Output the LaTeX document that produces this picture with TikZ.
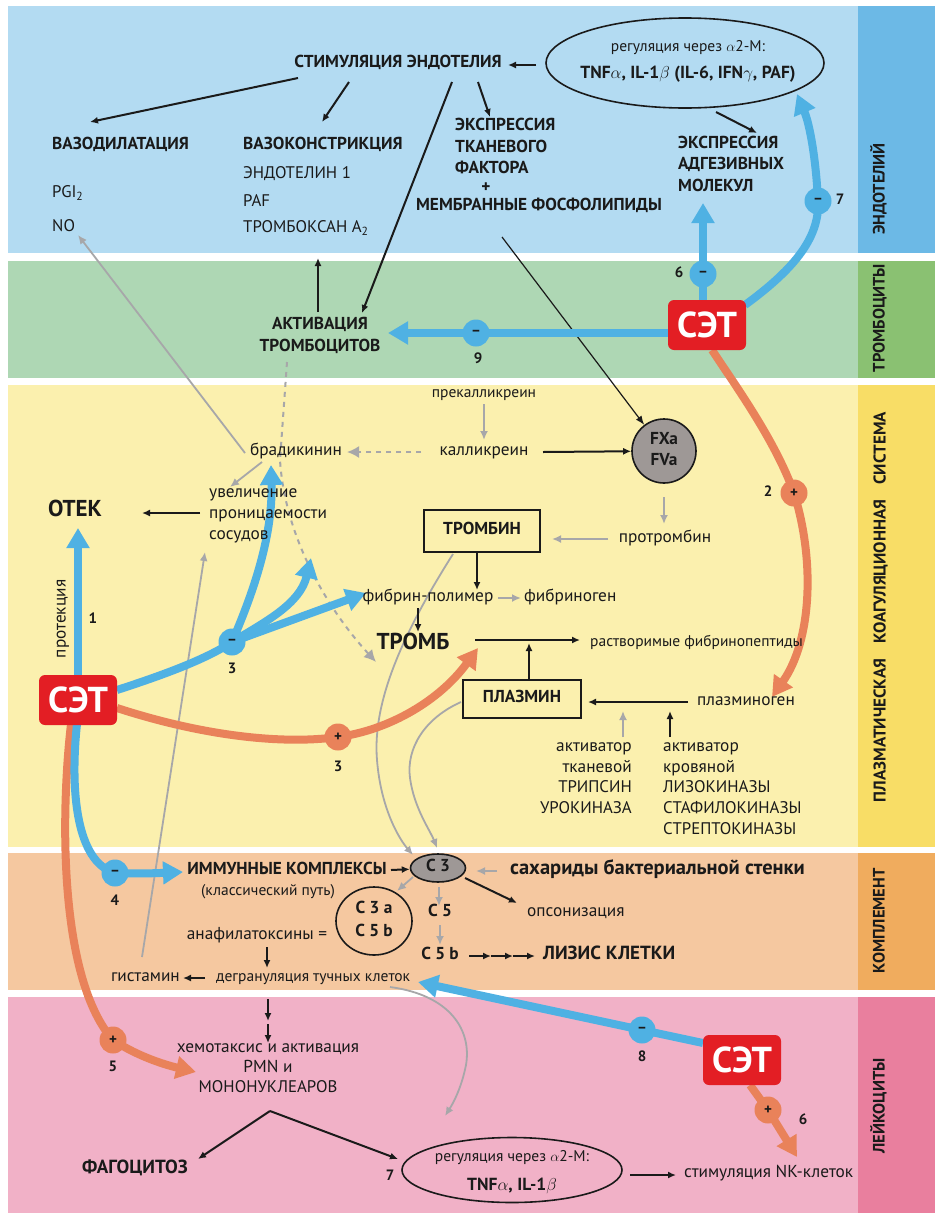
\documentclass[tikz,border=0pt]{standalone}
\usepackage{fontspec}
\setmainfont{PT Sans}
\usetikzlibrary{arrows.meta,shapes.geometric,calc}
\pgfdeclarelayer{back}\pgfdeclarelayer{mid}
\pgfsetlayers{back,mid,main}
\definecolor{bblue}{HTML}{B3DBF2}
\definecolor{sblue}{HTML}{6CB9E6}
\definecolor{bgreen}{HTML}{AED7B4}
\definecolor{sgreen}{HTML}{8AC172}
\definecolor{byellow}{HTML}{FBF0AE}
\definecolor{syellow}{HTML}{F8DD66}
\definecolor{bpeach}{HTML}{F5C8A0}
\definecolor{speach}{HTML}{F0AC5E}
\definecolor{bpink}{HTML}{F1B1C7}
\definecolor{spink}{HTML}{E97F9E}
\definecolor{arrblue}{HTML}{4FB1E3}
\definecolor{arrorange}{HTML}{E9825A}
\definecolor{setred}{HTML}{E31E24}
\definecolor{greyarr}{HTML}{A7A7A9}
\definecolor{cgrey}{HTML}{9E9896}
\definecolor{ink}{HTML}{1A1A1A}
\tikzset{
  tx/.style={inner sep=0pt, text height=0.7em, text depth=0pt, text=ink},
  tn/.style={tx, font=\fontsize{17.3}{20}\selectfont},
  tnc/.style={tx, font=\fontsize{16.8}{20}\selectfont},
  ts/.style={tx, font=\fontsize{15.5}{18}\selectfont},
  tb/.style={tx, font=\bfseries\fontsize{17.3}{20}\selectfont},
  tbs/.style={tx, font=\bfseries\fontsize{17.5}{20}\selectfont},
  tbm/.style={tx, font=\bfseries\fontsize{19}{22}\selectfont},
  tbl/.style={tx, font=\bfseries\fontsize{20.5}{23}\selectfont},
  tL/.style={tx, font=\bfseries\fontsize{23}{26}\selectfont},
  num/.style={tx, font=\bfseries\fontsize{15}{18}\selectfont},
  side/.style={tx, rotate=90, font=\bfseries\fontsize{16.5}{19}\selectfont},
  setbox/.style={fill=setred, rounded corners=6pt, minimum width=78pt, minimum height=50pt, inner sep=0pt, text=white, font=\bfseries\fontsize{36}{36}\selectfont},
  bsign/.style={circle, fill=arrblue, minimum size=27pt, inner sep=0pt, text=ink, font=\bfseries\fontsize{15}{15}\selectfont},
  osign/.style={circle, fill=arrorange, minimum size=27pt, inner sep=0pt, text=ink, font=\bfseries\fontsize{15}{15}\selectfont},
  framebox/.style={draw=ink, line width=2pt, inner sep=0pt},
  bluearr/.style={draw=arrblue, line width=8pt, -{Triangle[length=20pt,width=22pt]}},
  blueline/.style={draw=arrblue, line width=8pt},
  orarr/.style={draw=arrorange, line width=8pt, -{Triangle[length=20pt,width=22pt]}},
  blk/.style={draw=ink, line width=2pt, -{Latex[length=8pt,width=7pt]}},
  blkthin/.style={draw=ink, line width=1.2pt, -{Latex[length=9pt,width=7pt]}},
  gry/.style={draw=greyarr, line width=1.8pt, -{Latex[length=9pt,width=8pt]}},
  grydash/.style={draw=greyarr, line width=2pt, dash pattern=on 5pt off 5pt, -{Latex[length=12pt,width=12pt]}},
}
\begin{document}
\begin{tikzpicture}[x=1pt,y=-1pt]
\useasboundingbox (0,0) rectangle (935,1213);
% ---------------- bands
\begin{pgfonlayer}{back}
\fill[white] (0,0) rectangle (935,1213);
\fill[bblue] (8,6) rectangle (858,253);   \fill[sblue] (858,6) rectangle (935,253);
\fill[bgreen] (8,261) rectangle (858,378); \fill[sgreen] (858,261) rectangle (935,378);
\fill[byellow] (8,385) rectangle (858,847); \fill[syellow] (858,385) rectangle (935,847);
\fill[bpeach] (8,853) rectangle (858,990); \fill[speach] (858,853) rectangle (935,990);
\fill[bpink] (8,997) rectangle (858,1213); \fill[spink] (858,997) rectangle (935,1213);
\end{pgfonlayer}
% ---------------- side labels
\node[side] (sl1) at (881,189) {ЭНДОТЕЛИЙ};
\node[side] (sl2) at (881,318) {ТРОМБОЦИТЫ};
\node[side, font=\bfseries\fontsize{17}{19}\selectfont] (sl3) at (882,607) {ПЛАЗМАТИЧЕСКАЯ\hspace{15pt}КОАГУЛЯЦИОННАЯ\hspace{15pt}СИСТЕМА};
\node[side] (sl4) at (881,921) {КОМПЛЕМЕНТ};
\node[side] (sl5) at (881,1106) {ЛЕЙКОЦИТЫ};
% ---------------- endothelium
\node[tb] (stim) at (398,64) {СТИМУЛЯЦИЯ ЭНДОТЕЛИЯ};
\node[draw=ink, line width=1.6pt, ellipse, minimum width=278pt, minimum height=90pt, inner sep=0pt] (reg1) at (685,63) {};
\node[ts] (reg1a) at (688,48) {регуляция через $\alpha$2-М:};
\node[tbs] (reg1b) at (688,75) {TNF$\alpha$, IL-1$\beta$ (IL-6, IFN$\gamma$, PAF)};
\node[tb, anchor=west] (vdil) at (52,146) {ВАЗОДИЛАТАЦИЯ};
\node[tnc, anchor=west] (pgi) at (52,194) {PGI\textsubscript{2}};
\node[tnc, anchor=west] (no) at (52,228) {NO};
\node[tb, anchor=west] (vcon) at (243,146) {ВАЗОКОНСТРИКЦИЯ};
\node[tnc, anchor=west] (et1) at (243,175) {ЭНДОТЕЛИН 1};
\node[tnc, anchor=west] (paf) at (243,203) {PAF};
\node[tnc, anchor=west] (txa) at (243,229) {ТРОМБОКСАН A\textsubscript{2}};
\node[tb, anchor=west] (tf1) at (455,127) {ЭКСПРЕССИЯ};
\node[tb, anchor=west] (tf2) at (455,149) {ТКАНЕВОГО};
\node[tb, anchor=west] (tf3) at (455,170) {ФАКТОРА};
\node[tb] (tfp) at (486,189) {+};
\node[tb] (tf4) at (539,207) {МЕМБРАННЫЕ ФОСФОЛИПИДЫ};
\node[tb, anchor=west] (ad1) at (678,145) {ЭКСПРЕССИЯ};
\node[tb, anchor=west] (ad2) at (678,166) {АДГЕЗИВНЫХ};
\node[tb, anchor=west] (ad3) at (678,188) {МОЛЕКУЛ};
% ---------------- platelets
\node[tb] (act1) at (320,326) {АКТИВАЦИЯ};
\node[tb] (act2) at (320,348) {ТРОМБОЦИТОВ};
\node[setbox] (set1) at (707,325) {СЭТ};
\node[bsign] (m9) at (476,333) {–};
\node[num] (n9) at (478,360) {9};
\node[bsign] (m6) at (703,274) {–};
\node[num] (n6a) at (679,274) {6};
\node[bsign] (m7) at (818,201) {–};
\node[num] (n7a) at (840,201) {7};
% ---------------- coagulation
\node[ts] (prek) at (484,394) {прекалликреин};
\node[tn] (kal) at (484,452) {калликреин};
\node[tn] (brad) at (296,452) {брадикинин};
\node[circle, draw=ink, line width=1.6pt, fill=cgrey, minimum size=64pt, inner sep=0pt] (fx) at (664,451) {};
\node[tb] (fxa) at (664,441) {FXa};
\node[tb] (fva) at (664,462) {FVa};
\node[tn] (prot) at (665,539) {протромбин};
\node[framebox, minimum width=116pt, minimum height=42pt] (thr) at (482,531) {};
\node[tb] (thrt) at (482,531) {ТРОМБИН};
\node[tn] (fibp) at (428,598) {фибрин-полимер};
\node[tn, anchor=west] (fibg) at (524,598) {фибриноген};
\node[tL] (tromb) at (413,646) {ТРОМБ};
\node[ts, anchor=west] (rfp) at (590,643) {растворимые фибринопептиды};
\node[framebox, minimum width=118pt, minimum height=38pt] (plm) at (522,699) {};
\node[tb] (plmt) at (522,699) {ПЛАЗМИН};
\node[tn, anchor=west] (plg) at (697,702) {плазминоген};
\node[tn, anchor=east] (ta1) at (632,748) {активатор};
\node[tn, anchor=east] (ta2) at (632,769) {тканевой};
\node[tnc, anchor=east] (ta3) at (632,789) {ТРИПСИН};
\node[tnc, anchor=east] (ta4) at (632,810) {УРОКИНАЗА};
\node[tn, anchor=west] (kb1) at (663,748) {активатор};
\node[tn, anchor=west] (kb2) at (663,769) {кровяной};
\node[tnc, anchor=west] (kb3) at (663,789) {ЛИЗОКИНАЗЫ};
\node[tnc, anchor=west] (kb4) at (663,810) {СТАФИЛОКИНАЗЫ};
\node[tnc, anchor=west] (kb5) at (663,831) {СТРЕПТОКИНАЗЫ};
\node[tL] (otek) at (75,513) {ОТЕК};
\node[tn, anchor=west] (uv1) at (209,494) {увеличение};
\node[tn, anchor=west] (uv2) at (209,515) {проницаемости};
\node[tn, anchor=west] (uv3) at (209,536) {сосудов};
\node[setbox] (set2) at (78,700) {СЭТ};
\node[num] (n1) at (93,620) {1};
\node[tn, rotate=90] (protek) at (62,619) {протекция};
\node[bsign] (m3) at (232,642) {–};
\node[num] (n3a) at (232,670) {3};
\node[osign] (p3) at (338,737) {+};
\node[num] (n3b) at (338,768) {3};
\node[osign] (p2) at (794,493) {+};
\node[num] (n2) at (768,493) {2};
% ---------------- complement
\node[ellipse, draw=ink, line width=1.6pt, fill=cgrey, minimum width=55pt, minimum height=28pt, inner sep=0pt] (c3) at (438,868) {};
\node[tb] (c3t) at (438,868) {C 3};
\node[tb] (imk) at (287,871) {ИММУННЫЕ КОМПЛЕКСЫ};
\node[ts] (klass) at (268,892) {(классический путь)};
\node[bsign] (m4) at (115,873) {–};
\node[num] (n4) at (115,902) {4};
\node[ellipse, draw=ink, line width=1.6pt, minimum width=76pt, minimum height=68pt, inner sep=0pt] (c3a) at (374,921) {};
\node[tb] (c3at) at (374,910) {C 3 a};
\node[tb] (c5bt) at (374,933) {C 5 b};
\node[tb] (c5) at (440,913) {C 5};
\node[tb] (c5b) at (440,956) {C 5 b};
\node[tbm, anchor=west] (lys) at (543,956) {ЛИЗИС КЛЕТКИ};
\node[tn] (anaf) at (257,936) {анафилатоксины =};
\node[ts, anchor=west] (degr) at (216,978) {дегрануляция тучных клеток};
\node[tn, anchor=east] (hist) at (180,978) {гистамин};
\node[tbl, anchor=west] (sah) at (510,871) {сахариды бактериальной стенки};
\node[tn, anchor=west] (ops) at (527,913) {опсонизация};
% ---------------- leukocytes
\node[tn] (hem1) at (268,1049) {хемотаксис и активация};
\node[tn] (hem2) at (268,1069) {PMN и};
\node[tnc] (hem3) at (268,1089) {МОНОНУКЛЕАРОВ};
\node[tbm] (phag) at (135,1170) {ФАГОЦИТОЗ};
\node[num] (n7b) at (390,1177) {7};
\node[ellipse, draw=ink, line width=1.6pt, minimum width=220pt, minimum height=65pt, inner sep=0pt] (reg2) at (512,1170) {};
\node[ts] (reg2a) at (512,1158) {регуляция через $\alpha$2-М:};
\node[tbs] (reg2b) at (512,1187) {TNF$\alpha$, IL-1$\beta$};
\node[tn, anchor=west] (nk) at (684,1174) {стимуляция NK-клеток};
\node[setbox] (set3) at (742,1060) {СЭТ};
\node[bsign] (m8) at (642,1030) {–};
\node[num] (n8) at (642,1058) {8};
\node[osign] (p6) at (768,1110) {+};
\node[num] (n6b) at (803,1121) {6};
\node[osign] (p5) at (113,1040) {+};
\node[num] (n5) at (113,1068) {5};
% ---------------- free ends
\coordinate (e1s) at (536,65);  \coordinate (e1t) at (508,65);
\coordinate (sv1s) at (298,78); \coordinate (sv1t) at (90,122);
\coordinate (sv2s) at (349,82); \coordinate (sv2t) at (322,122);
\coordinate (sv3s) at (452,82); \coordinate (sv3t) at (362,313);
\coordinate (sv4s) at (478,82); \coordinate (sv4t) at (490,117);
\coordinate (ad0s) at (716,112); \coordinate (ad0t) at (757,133);
\coordinate (tfs) at (502,237);
\coordinate (aps) at (318,312); \coordinate (apt) at (318,258);
\coordinate (b9s) at (668,333); \coordinate (b9t) at (388,333);
\coordinate (b6s) at (703,300); \coordinate (b6t) at (703,203);
\coordinate (b7s) at (745,305); \coordinate (b7t) at (797,94);
\coordinate (b1s) at (78,675);  \coordinate (b1t) at (78,528);
\coordinate (b3s) at (117,690);
\coordinate (b3a) at (271,465); \coordinate (b3b) at (311,558); \coordinate (b3c) at (366,593);
\coordinate (b4s) at (77,724);  \coordinate (b4t) at (183,872);
\coordinate (b8s) at (703,1043); \coordinate (b8t) at (418,982);
\coordinate (o2s) at (712,350); \coordinate (o2t) at (772,697);
\coordinate (o3s) at (117,708); \coordinate (o3t) at (478,648);
\coordinate (o5s) at (71,724);  \coordinate (o5t) at (196,1072);
\coordinate (o6s) at (750,1085); \coordinate (o6t) at (797,1157);
\coordinate (gNOs) at (245,453); \coordinate (gNOt) at (78,235);
\coordinate (gbus) at (262,462); \coordinate (gbut) at (230,487);
\coordinate (gpks) at (484,404); \coordinate (gpkt) at (484,440);
\coordinate (gkbs) at (421,452); \coordinate (gkbt) at (347,452);
\coordinate (gfps) at (664,497); \coordinate (gfpt) at (664,524);
\coordinate (gpts) at (608,539); \coordinate (gptt) at (552,539);
\coordinate (gffs) at (498,598); \coordinate (gfft) at (521,598);
\coordinate (gtas) at (623,737); \coordinate (gtat) at (623,711);
\coordinate (ghus) at (142,957); \coordinate (ghut) at (205,552);
\coordinate (gtcs) at (453,554); \coordinate (gtct) at (413,855);
\coordinate (gpcs) at (461,702); \coordinate (gpct) at (437,848);
\coordinate (gcas) at (413,877); \coordinate (gcat) at (397,891);
\coordinate (gc5s) at (439,887); \coordinate (gc5t) at (439,906);
\coordinate (gc5bs) at (440,925); \coordinate (gc5bt) at (440,945);
\coordinate (gscs) at (497,871); \coordinate (gsct) at (476,871);
\coordinate (gdls) at (390,987); \coordinate (gdlt) at (445,1116);
\coordinate (gats) at (287,362); \coordinate (gatt) at (376,662);
\coordinate (kfs) at (543,452);
\coordinate (tfbs) at (477,552); \coordinate (tfbt) at (477,590);
\coordinate (fts) at (418,608); \coordinate (ftt) at (418,632);
\coordinate (trs) at (475,640); \coordinate (trt) at (580,640);
\coordinate (pms) at (529,680); \coordinate (pmt) at (529,643);
\coordinate (pgs) at (688,702); \coordinate (pgt) at (588,702);
\coordinate (kas) at (670,737); \coordinate (kat) at (670,711);
\coordinate (ous) at (200,513); \coordinate (out) at (142,513);
\coordinate (ics) at (391,870);
\coordinate (ads) at (267,947); \coordinate (adt) at (267,968);
\coordinate (dhs) at (205,978); \coordinate (dht) at (183,978);
\coordinate (cos) at (465,878); \coordinate (cot) at (517,903);
\coordinate (ch0) at (469,956); \coordinate (ch1) at (491,956); \coordinate (ch2) at (513,956); \coordinate (ch3) at (535,956);
\coordinate (dd0) at (268,999); \coordinate (dd1) at (268,1021); \coordinate (dd2) at (268,1024); \coordinate (dd3) at (268,1043);
\coordinate (apx) at (270,1111); \coordinate (apl) at (198,1159); \coordinate (apr) at (398,1159);
\coordinate (rns) at (630,1175); \coordinate (rnt) at (676,1175);
% ---------------- connectors
\begin{pgfonlayer}{mid}
% grey
\draw[gry] (gNOs) -- (gNOt);
\draw[gry] (gbus) -- (gbut);
\draw[gry] (gpks) -- (gpkt);
\draw[grydash] (gkbs) -- (gkbt);
\draw[gry] (gfps) -- (gfpt);
\draw[gry] (gpts) -- (gptt);
\draw[gry] (gffs) -- (gfft);
\draw[gry] (gtas) -- (gtat);
\draw[gry] (ghus) -- (ghut);
\draw[gry] (gtcs) .. controls (405,630) and (372,700) .. (377,760) .. controls (381,810) and (400,840) .. (gtct);
\draw[gry] (gpcs) .. controls (425,718) and (406,748) .. (410,778) .. controls (414,808) and (430,830) .. (gpct);
\draw[gry] (gcas) -- (gcat);
\draw[gry] (gc5s) -- (gc5t);
\draw[gry] (gc5bs) -- (gc5bt);
\draw[gry] (gscs) -- (gsct);
\draw[gry] (gdls) .. controls (450,995) and (472,1030) .. (466,1065) .. controls (461,1090) and (452,1105) .. (gdlt);
\draw[grydash] (gats) -- (280,460) .. controls (285,540) and (330,612) .. (gatt);
% black
\draw[blk] (e1s) -- (e1t);
\draw[blk] (sv1s) -- (sv1t);
\draw[blk] (sv2s) -- (sv2t);
\draw[blk] (sv3s) -- (sv3t);
\draw[blk] (sv4s) -- (sv4t);
\draw[blk] (ad0s) -- (ad0t);
\draw[blkthin] (tfs) -- (fx);
\draw[blk] (aps) -- (apt);
\draw[blk] (kfs) -- (fx);
\draw[blk] (tfbs) -- (tfbt);
\draw[blk] (fts) -- (ftt);
\draw[blk] (trs) -- (trt);
\draw[blk] (pms) -- (pmt);
\draw[blk] (pgs) -- (pgt);
\draw[blk] (kas) -- (kat);
\draw[blk] (ous) -- (out);
\draw[blk] (ics) -- (c3);
\draw[blk] (ads) -- (adt);
\draw[blk] (dhs) -- (dht);
\draw[blk] (cos) -- (cot);
\draw[blk] (ch0) -- (ch1);
\draw[blk] (ch1) -- (ch2);
\draw[blk] (ch2) -- (ch3);
\draw[blk] (dd0) -- (dd1);
\draw[blk] (dd2) -- (dd3);
\draw[blk] (apx) -- (apl);
\draw[blk] (apx) -- (apr);
\draw[blk] (rns) -- (rnt);
% orange
\draw[orarr] (o2s) .. controls (735,385) and (775,440) .. (p2.center) .. controls (815,560) and (812,640) .. (o2t);
\draw[orarr] (o3s) .. controls (200,735) and (280,745) .. (p3.center) .. controls (390,730) and (440,700) .. (o3t);
\draw[orarr] (o5s) .. controls (60,820) and (60,980) .. (p5.center) .. controls (140,1058) and (170,1066) .. (o5t);
\draw[orarr] (o6s) -- (p6.center) -- (o6t);
% blue
\draw[bluearr] (b9s) -- (b9t);
\draw[bluearr] (b6s) -- (b6t);
\draw[bluearr] (b7s) .. controls (790,272) and (820,240) .. (m7.center) .. controls (816,160) and (810,125) .. (b7t);
\draw[bluearr] (b1s) -- (b1t);
\draw[blueline] (b3s) .. controls (160,676) and (205,660) .. (m3.center);
\draw[bluearr] (m3.center) .. controls (250,600) and (273,540) .. (b3a);
\draw[bluearr] (m3.center) .. controls (265,622) and (300,604) .. (b3b);
\draw[bluearr] (m3.center) -- (b3c);
\draw[bluearr] (b4s) .. controls (70,790) and (76,862) .. (m4.center) .. controls (140,874) and (160,873) .. (b4t);
\draw[bluearr] (b8s) -- (m8.center) -- (b8t);
\end{pgfonlayer}
\end{tikzpicture}
\end{document}
